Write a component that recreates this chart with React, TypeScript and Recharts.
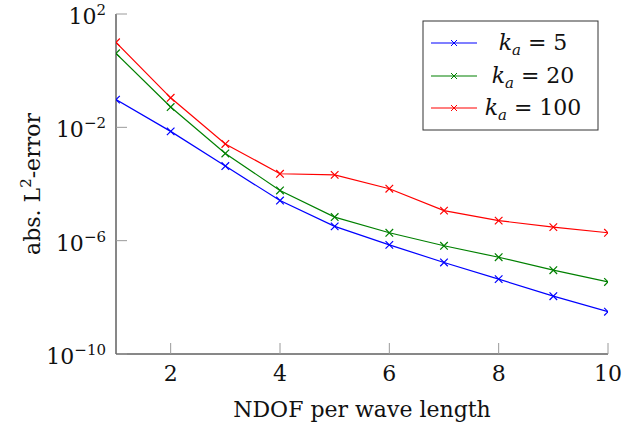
import React from "react";
import { LineChart, Line, XAxis, YAxis, Customized } from "recharts";

const ndof = [1, 2, 3, 4, 5, 6, 7, 8, 9, 10];
const errK5 = [9.5e-2, 7.2e-3, 4.3e-4, 2.6e-5, 3.2e-6, 7.1e-7, 1.7e-7, 4.4e-8, 1.1e-8, 3.1e-9];
const errK20 = [4.1, 5.2e-2, 1.2e-3, 5.9e-5, 6.8e-6, 1.9e-6, 6.6e-7, 2.6e-7, 9.1e-8, 3.5e-8];
const errK100 = [10, 0.11, 2.6e-3, 2.3e-4, 2.1e-4, 6.8e-5, 1.15e-5, 5.1e-6, 3.0e-6, 1.9e-6];
const xTicks = [2, 4, 6, 8, 10];
const yTicks = [1e2, 1e-2, 1e-6, 1e-10];
const seriesNames = ["5", "20", "100"];
const seriesKeys = ["k5", "k20", "k100"];
const seriesColors = ["#0000ff", "#008000", "#ff0000"];

const data = ndof.map((n, i) => ({ n, k5: errK5[i], k20: errK20[i], k100: errK100[i] }));

const FONT = "DejaVu Serif";
const TICK_COLOR = "#9a9a9a";
const TICK_LEN = 11;

const Cross = (color: string) => (props: any) => {
  const { cx, cy, index } = props;
  if (cx == null || cy == null) return <g key={index} />;
  const s = 3.8;
  return (
    <path
      key={index}
      d={`M${cx - s},${cy - s}L${cx + s},${cy + s}M${cx - s},${cy + s}L${cx + s},${cy - s}`}
      stroke={color}
      strokeWidth={1.2}
      fill="none"
    />
  );
};

const fmtExp = (v: number) => {
  const e = Math.round(Math.log10(v));
  return e < 0 ? `\u2212${-e}` : `${e}`;
};

const LeftYTick = (props: any) => {
  const { x, y, payload } = props;
  return (
    <g>
      <line x1={x} x2={x + TICK_LEN} y1={y} y2={y} stroke={TICK_COLOR} />
      <text x={x - 10} y={y + 10} textAnchor="end" fontFamily={FONT} fontSize={22} fill="#111">
        10
        <tspan dy={-9} fontSize={15}>
          {fmtExp(payload.value)}
        </tspan>
      </text>
    </g>
  );
};

const RightYTick = (props: any) => {
  const { x, y } = props;
  return <line x1={x} x2={x - TICK_LEN} y1={y} y2={y} stroke={TICK_COLOR} />;
};

const BottomXTick = (props: any) => {
  const { x, y, payload } = props;
  return (
    <g>
      <line x1={x} x2={x} y1={y} y2={y - TICK_LEN} stroke={TICK_COLOR} />
      <text x={x} y={y + 27} textAnchor="middle" fontFamily={FONT} fontSize={22} fill="#111">
        {payload.value}
      </text>
    </g>
  );
};

const TopXTick = (props: any) => {
  const { x, y } = props;
  return <line x1={x} x2={x} y1={y} y2={y + TICK_LEN} stroke={TICK_COLOR} />;
};

const XLabel = (props: any) => {
  const vb = props.viewBox || {};
  return (
    <text x={vb.x + vb.width / 2} y={vb.y + 63} textAnchor="middle" fontFamily={FONT} fontSize={22} fill="#111">
      NDOF per wave length
    </text>
  );
};

const YLabel = (props: any) => {
  const vb = props.viewBox || {};
  const cx = 40;
  const cy = vb.y + vb.height / 2;
  return (
    <text
      x={cx}
      y={cy}
      transform={`rotate(-90, ${cx}, ${cy})`}
      textAnchor="middle"
      fontFamily={FONT}
      fontSize={22}
      fill="#111"
    >
      abs. L
      <tspan dy={-9} fontSize={15}>
        2
      </tspan>
      <tspan dy={9}>-error</tspan>
    </text>
  );
};

const LegendBox = () => {
  const left = 423;
  const top = 21;
  const w = 175;
  const h = 109;
  const rows = [43, 76, 108];
  return (
    <g>
      <rect x={left} y={top} width={w} height={h} fill="#fff" stroke="#333" strokeWidth={1} />
      {seriesNames.map((name, i) => {
        const y = rows[i];
        const c = seriesColors[i];
        const s = 3;
        return (
          <g key={name}>
            <line x1={431} x2={477} y1={y} y2={y} stroke={c} strokeWidth={1.2} />
            <path d={`M${454 - s},${y - s}L${454 + s},${y + s}M${454 - s},${y + s}L${454 + s},${y - s}`} stroke={c} />
            <text x={533} y={y + 7} textAnchor="middle" fontFamily={FONT} fontSize={22} fill="#111">
              <tspan fontStyle="italic">k</tspan>
              <tspan fontStyle="italic" fontSize={15} dy={5}>
                a
              </tspan>
              <tspan dy={-5}>{` = ${name}`}</tspan>
            </text>
          </g>
        );
      })}
    </g>
  );
};

export default function App() {
  return (
    <div style={{ position: "absolute", left: 0, top: 0, background: "#fff" }}>
      <LineChart width={622} height={432} data={data} margin={{ top: 14, right: 14, bottom: 0, left: 0 }}>
        <XAxis
          dataKey="n"
          type="number"
          domain={[1, 10]}
          ticks={xTicks}
          interval={0}
          height={78}
          tickSize={0}
          tickMargin={0}
          tickLine={false}
          axisLine={{ stroke: "#111" }}
          tick={<BottomXTick />}
          label={{ content: (p: any) => <XLabel {...p} /> }}
          allowDataOverflow
        />
        <XAxis
          xAxisId="top"
          orientation="top"
          dataKey="n"
          type="number"
          domain={[1, 10]}
          ticks={xTicks}
          interval={0}
          height={0}
          tickSize={0}
          tickMargin={0}
          tickLine={false}
          axisLine={{ stroke: "#111" }}
          tick={<TopXTick />}
          allowDataOverflow
        />
        <YAxis
          scale="log"
          type="number"
          domain={[1e-10, 1e2]}
          ticks={yTicks}
          interval={0}
          width={116}
          tickSize={0}
          tickMargin={0}
          tickLine={false}
          axisLine={{ stroke: "#111" }}
          tick={<LeftYTick />}
          label={{ content: (p: any) => <YLabel {...p} /> }}
          allowDataOverflow
        />
        <YAxis
          yAxisId="right"
          orientation="right"
          scale="log"
          type="number"
          domain={[1e-10, 1e2]}
          ticks={yTicks}
          interval={0}
          width={0}
          tickSize={0}
          tickMargin={0}
          tickLine={false}
          axisLine={{ stroke: "#111" }}
          tick={<RightYTick />}
          allowDataOverflow
        />
        {seriesKeys.map((k, i) => (
          <Line
            key={k}
            dataKey={k}
            stroke={seriesColors[i]}
            strokeWidth={1.2}
            dot={Cross(seriesColors[i])}
            activeDot={false}
            isAnimationActive={false}
          />
        ))}
        <Customized component={LegendBox} />
      </LineChart>
    </div>
  );
}
